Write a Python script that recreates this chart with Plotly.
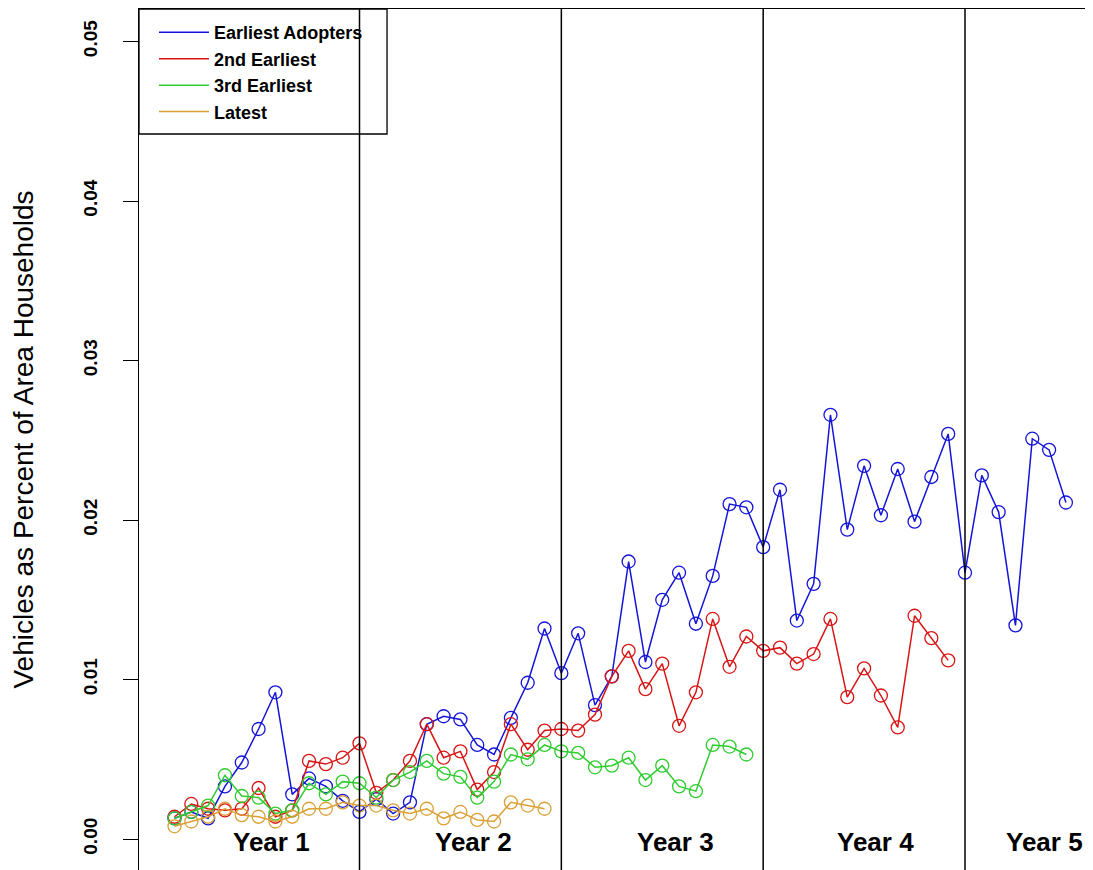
import plotly.graph_objects as go

# ---------------- data ----------------
series_names = ["Earliest Adopters", "2nd Earliest", "3rd Earliest", "Latest"]
series_colors = ["#1515D8", "#D81515", "#2ECC2E", "#DAA035"]

earliest = [0.0013, 0.0017, 0.0013, 0.0033, 0.0048, 0.0069, 0.0092, 0.0028, 0.0038, 0.0033, 0.0024, 0.0017,
            0.0025, 0.0016, 0.0023, 0.0072, 0.0077, 0.0075, 0.0059, 0.0053, 0.0076, 0.0098, 0.0132, 0.0104,
            0.0129, 0.0084, 0.0102, 0.0174, 0.0111, 0.0150, 0.0167, 0.0135, 0.0165, 0.0210, 0.0208, 0.0183,
            0.0219, 0.0137, 0.0160, 0.0266, 0.0194, 0.0234, 0.0203, 0.0232, 0.0199, 0.0227, 0.0254, 0.0167,
            0.0228, 0.0205, 0.0134, 0.0251, 0.0244, 0.0211]
second = [0.0014, 0.0022, 0.0019, 0.0018, 0.0019, 0.0032, 0.0014, 0.0018, 0.0049, 0.0047, 0.0051, 0.0060,
          0.0029, 0.0037, 0.0049, 0.0072, 0.0051, 0.0055, 0.0031, 0.0042, 0.0072, 0.0056, 0.0068, 0.0069,
          0.0068, 0.0078, 0.0102, 0.0118, 0.0094, 0.0110, 0.0071, 0.0092, 0.0138, 0.0108, 0.0127, 0.0118,
          0.0120, 0.0110, 0.0116, 0.0138, 0.0089, 0.0107, 0.0090, 0.0070, 0.0140, 0.0126, 0.0112]
third = [0.0013, 0.0017, 0.0021, 0.0040, 0.0027, 0.0026, 0.0016, 0.0018, 0.0035, 0.0028, 0.0036, 0.0035,
         0.0026, 0.0037, 0.0042, 0.0049, 0.0041, 0.0039, 0.0026, 0.0036, 0.0053, 0.0050, 0.0059, 0.0055,
         0.0054, 0.0045, 0.0046, 0.0051, 0.0037, 0.0046, 0.0033, 0.0030, 0.0059, 0.0058, 0.0053]
latest = [0.0008, 0.0011, 0.0014, 0.0019, 0.0015, 0.0014, 0.0011, 0.0014, 0.0019, 0.0019, 0.0023, 0.0021,
          0.0021, 0.0018, 0.0016, 0.0019, 0.0013, 0.0017, 0.0012, 0.0011, 0.0023, 0.0021, 0.0019]

year_labels = ["Year 1", "Year 2", "Year 3", "Year 4", "Year 5"]
year_label_x = [6.75, 18.8, 30.8, 42.7, 52.7]
year_boundaries = [12, 24, 36, 48]
y_ticks = [0.00, 0.01, 0.02, 0.03, 0.04, 0.05]
y_tick_text = ["0.00", "0.01", "0.02", "0.03", "0.04", "0.05"]

all_series = [earliest, second, third, latest]

fig = go.Figure()

for name, color, vals in zip(series_names, series_colors, all_series):
    months = list(range(1, len(vals) + 1))
    fig.add_trace(go.Scatter(
        x=months, y=vals, mode="lines+markers", name=name, showlegend=False,
        line=dict(color=color, width=1.5),
        marker=dict(symbol="circle-open", size=13, color=color, line=dict(width=1.3, color=color)),
        cliponaxis=True,
    ))

# legend entries (line only, like the original)
for name, color in zip(series_names, series_colors):
    fig.add_trace(go.Scatter(x=[None], y=[None], mode="lines", name=name,
                             line=dict(color=color, width=1.5), showlegend=True))

# year boundary lines
for xb in year_boundaries:
    fig.add_shape(type="line", xref="x", yref="paper", x0=xb, x1=xb, y0=0, y1=1,
                  line=dict(color="black", width=1.5), layer="above")

# legend box
fig.add_shape(type="rect", xref="paper", yref="paper", x0=0, x1=0.26, y0=0.8548, y1=1,
              line=dict(color="black", width=1.3), fillcolor="rgba(0,0,0,0)", layer="above")

# year labels
for lab, xl in zip(year_labels, year_label_x):
    fig.add_annotation(x=xl, y=-0.0002, xref="x", yref="y", text=lab, showarrow=False,
                       font=dict(family="Liberation Sans", size=26, color="black", weight="bold"),
                       xanchor="center", yanchor="middle")

fig.update_layout(
    width=1085, height=862,
    margin=dict(l=131, r=0, t=1, b=0, autoexpand=False),
    paper_bgcolor="white", plot_bgcolor="white",
    showlegend=True,
    legend=dict(x=0.0157, y=0.994, xanchor="left", yanchor="top",
                bgcolor="rgba(0,0,0,0)", borderwidth=0,
                font=dict(family="Liberation Sans", size=18, color="black", weight="bold"),
                itemwidth=50, tracegroupgap=0),
    xaxis=dict(range=[-1.11, 55.61], side="top", showline=True, linecolor="black", linewidth=1.3,
               showgrid=False, zeroline=False, showticklabels=False, ticks="", fixedrange=True),
    yaxis=dict(range=[-0.00194, 0.05204], showline=True, linecolor="black", linewidth=1.3,
               showgrid=False, zeroline=False,
               tickmode="array", tickvals=y_ticks, ticktext=y_tick_text,
               ticks="outside", ticklen=15, tickwidth=1.3, tickcolor="black",
               tickangle=-90, ticklabelstandoff=18,
               tickfont=dict(family="Liberation Sans", size=19, color="black", weight="bold"),
               title=dict(text="Vehicles as Percent of Area Households", standoff=38,
                          font=dict(family="Liberation Sans", size=28, color="black")),
               automargin=False),
)

fig.write_html("out.html")
